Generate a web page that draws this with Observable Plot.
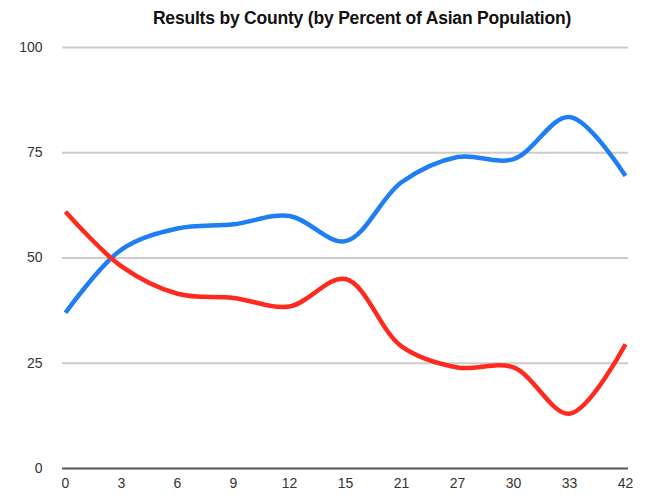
<!DOCTYPE html>
<html>
<head>
<meta charset="utf-8">
<script src="https://cdn.jsdelivr.net/npm/d3@7"></script>
<script src="https://cdn.jsdelivr.net/npm/@observablehq/plot@0.6"></script>
<style>
  body { margin: 0; background: #fff; font-family: "Liberation Sans", Arial, Helvetica, sans-serif; }
  #title { height: 34px; line-height: 36px; text-align: center; padding-left: 72px; font-weight: bold; font-size: 17.5px; color: #111; letter-spacing: -0.2px; }
</style>
</head>
<body>
<div id="title">Results by County (by Percent of Asian Population)</div>
<div id="chart"></div>
<script>
// Percent of Asian population per county (category labels on the x axis)
const counties = ["0", "3", "6", "9", "12", "15", "21", "27", "30", "33", "42"];
// Share of the vote for each candidate, in percent
const blueSeries = [37, 52, 57, 58, 60, 54, 68, 74, 73.5, 83.5, 69.5];
const redSeries = [61, 48, 41.5, 40.5, 38.5, 45, 29, 24, 24, 13, 29.5];
const yTicks = [0, 25, 50, 75, 100];
const seriesNames = ["Candidate A", "Candidate B"];
const seriesColors = ["#1f7ff2", "#ff2a1f"];

const rows = [
  ...counties.map((c, i) => ({county: c, value: blueSeries[i], series: seriesNames[0]})),
  ...counties.map((c, i) => ({county: c, value: redSeries[i], series: seriesNames[1]}))
];

const chart = Plot.plot({
  width: 652,
  height: 460,
  marginTop: 13,
  marginBottom: 26,
  marginLeft: 62,
  marginRight: 24,
  style: {fontFamily: "'Liberation Sans', Arial, Helvetica, sans-serif", fontSize: "14px", color: "#333"},
  x: {type: "point", domain: counties, padding: 0, label: null, tickSize: 0, tickPadding: 10},
  y: {domain: [0, 100], ticks: yTicks, label: null, tickSize: 0, tickPadding: 20},
  color: {domain: seriesNames, range: seriesColors},
  marks: [
    Plot.ruleY(yTicks.filter(d => d > 0), {stroke: "#cccccc", strokeWidth: 2}),
    Plot.ruleY([0], {stroke: "#555555", strokeWidth: 2}),
    Plot.line(rows, {
      x: "county", y: "value", z: "series", stroke: "series",
      strokeWidth: 4.5, curve: "catmull-rom", strokeLinecap: "butt"
    })
  ]
});
document.getElementById("chart").appendChild(chart);
</script>
</body>
</html>
